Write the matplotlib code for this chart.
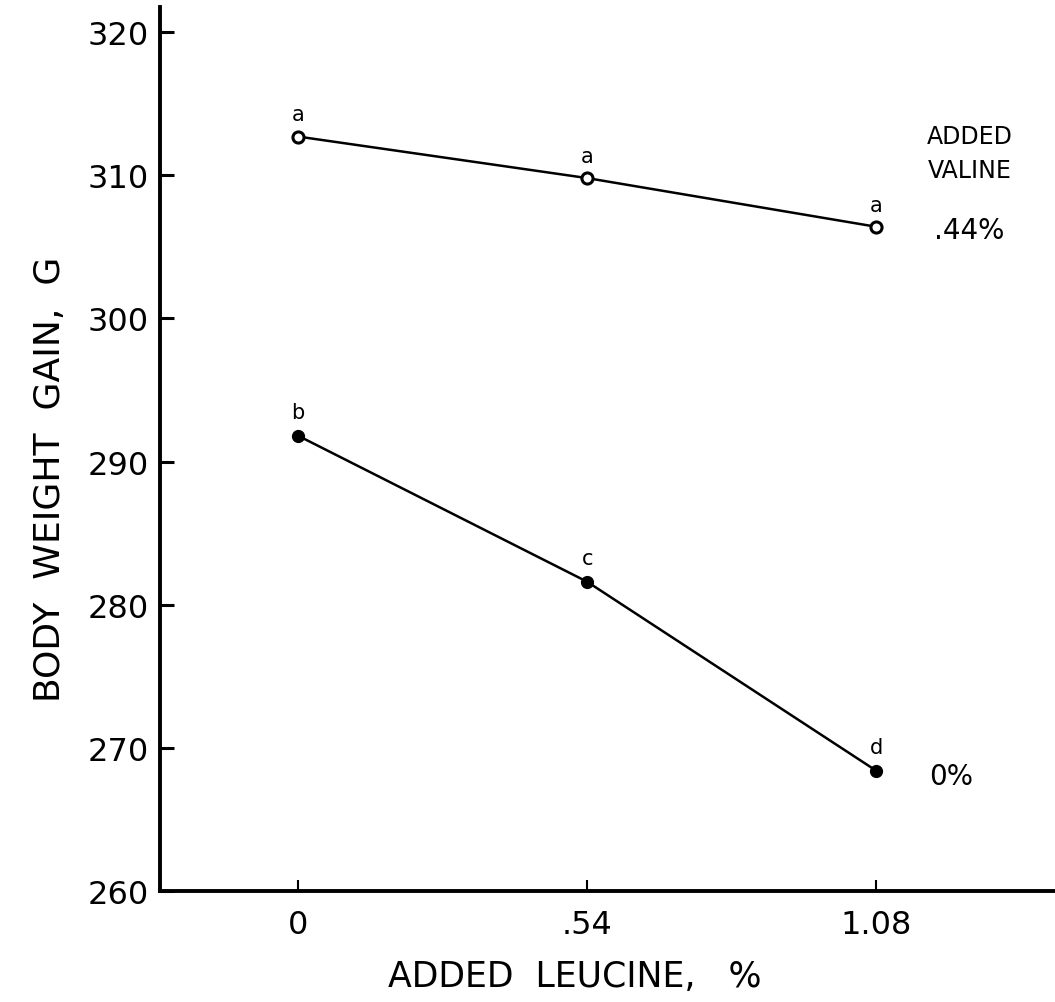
import matplotlib
matplotlib.use("Agg")
import matplotlib.pyplot as plt

# data
leucine = [0, 0.54, 1.08]
leucine_labels = ["0", ".54", "1.08"]
gain_valine_044 = [312.7, 309.8, 306.4]
gain_valine_0 = [291.8, 281.6, 268.4]
letters_valine_044 = ["a", "a", "a"]
letters_valine_0 = ["b", "c", "d"]
y_ticks = [260, 270, 280, 290, 300, 310, 320]

plt.rcParams['font.family'] = ['DejaVu Sans']

fig = plt.figure(figsize=(10.55, 10.03), dpi=100)
ax = fig.add_axes([0.1517, 0.1107, 0.8483, 0.8813])

# .44% added valine (open circles)
ax.plot(leucine, gain_valine_044, color='black', lw=1.8, marker='o',
        markersize=8, markerfacecolor='white', markeredgewidth=2.2, clip_on=False)
# 0% added valine (filled circles)
ax.plot(leucine, gain_valine_0, color='black', lw=1.8, marker='o',
        markersize=8.5, markerfacecolor='black', clip_on=False)

# significance letters above each point
for x, y, s in zip(leucine, gain_valine_044, letters_valine_044):
    ax.annotate(s, (x, y), xytext=(0, 16), textcoords='offset points',
                ha='center', va='center', fontsize=15)
for x, y, s in zip(leucine, gain_valine_0, letters_valine_0):
    ax.annotate(s, (x, y), xytext=(0, 17), textcoords='offset points',
                ha='center', va='center', fontsize=15)

# series labels at the right
ax.annotate("ADDED", (leucine[-1], gain_valine_044[-1]), xytext=(67, 65),
            textcoords='offset points', ha='center', va='center', fontsize=17)
ax.annotate("VALINE", (leucine[-1], gain_valine_044[-1]), xytext=(67, 41),
            textcoords='offset points', ha='center', va='center', fontsize=17)
ax.annotate(".44%", (leucine[-1], gain_valine_044[-1]), xytext=(67, -2),
            textcoords='offset points', ha='center', va='center', fontsize=20)
ax.annotate("0%", (leucine[-1], gain_valine_0[-1]), xytext=(54, -4),
            textcoords='offset points', ha='center', va='center', fontsize=20)

ax.set_xlim(-0.258, 1.414)
ax.set_ylim(260, 321.75)
ax.set_xticks(leucine)
ax.set_xticklabels(leucine_labels)
ax.set_yticks(y_ticks)

for side in ['top', 'right']:
    ax.spines[side].set_visible(False)
for side in ['left', 'bottom']:
    ax.spines[side].set_linewidth(2.8)

ax.tick_params(axis='y', direction='in', length=10, width=2.2, pad=8, labelsize=23)
ax.tick_params(axis='x', direction='in', length=8, width=1.5, pad=13, labelsize=23)

fig.text(0.047, 0.522, "BODY  WEIGHT  GAIN,  G", rotation=90,
         ha='center', va='center', fontsize=26)
fig.text(0.545, 0.026, "ADDED  LEUCINE,   %", ha='center', va='center', fontsize=25)

fig.savefig("out.png", dpi=100)
